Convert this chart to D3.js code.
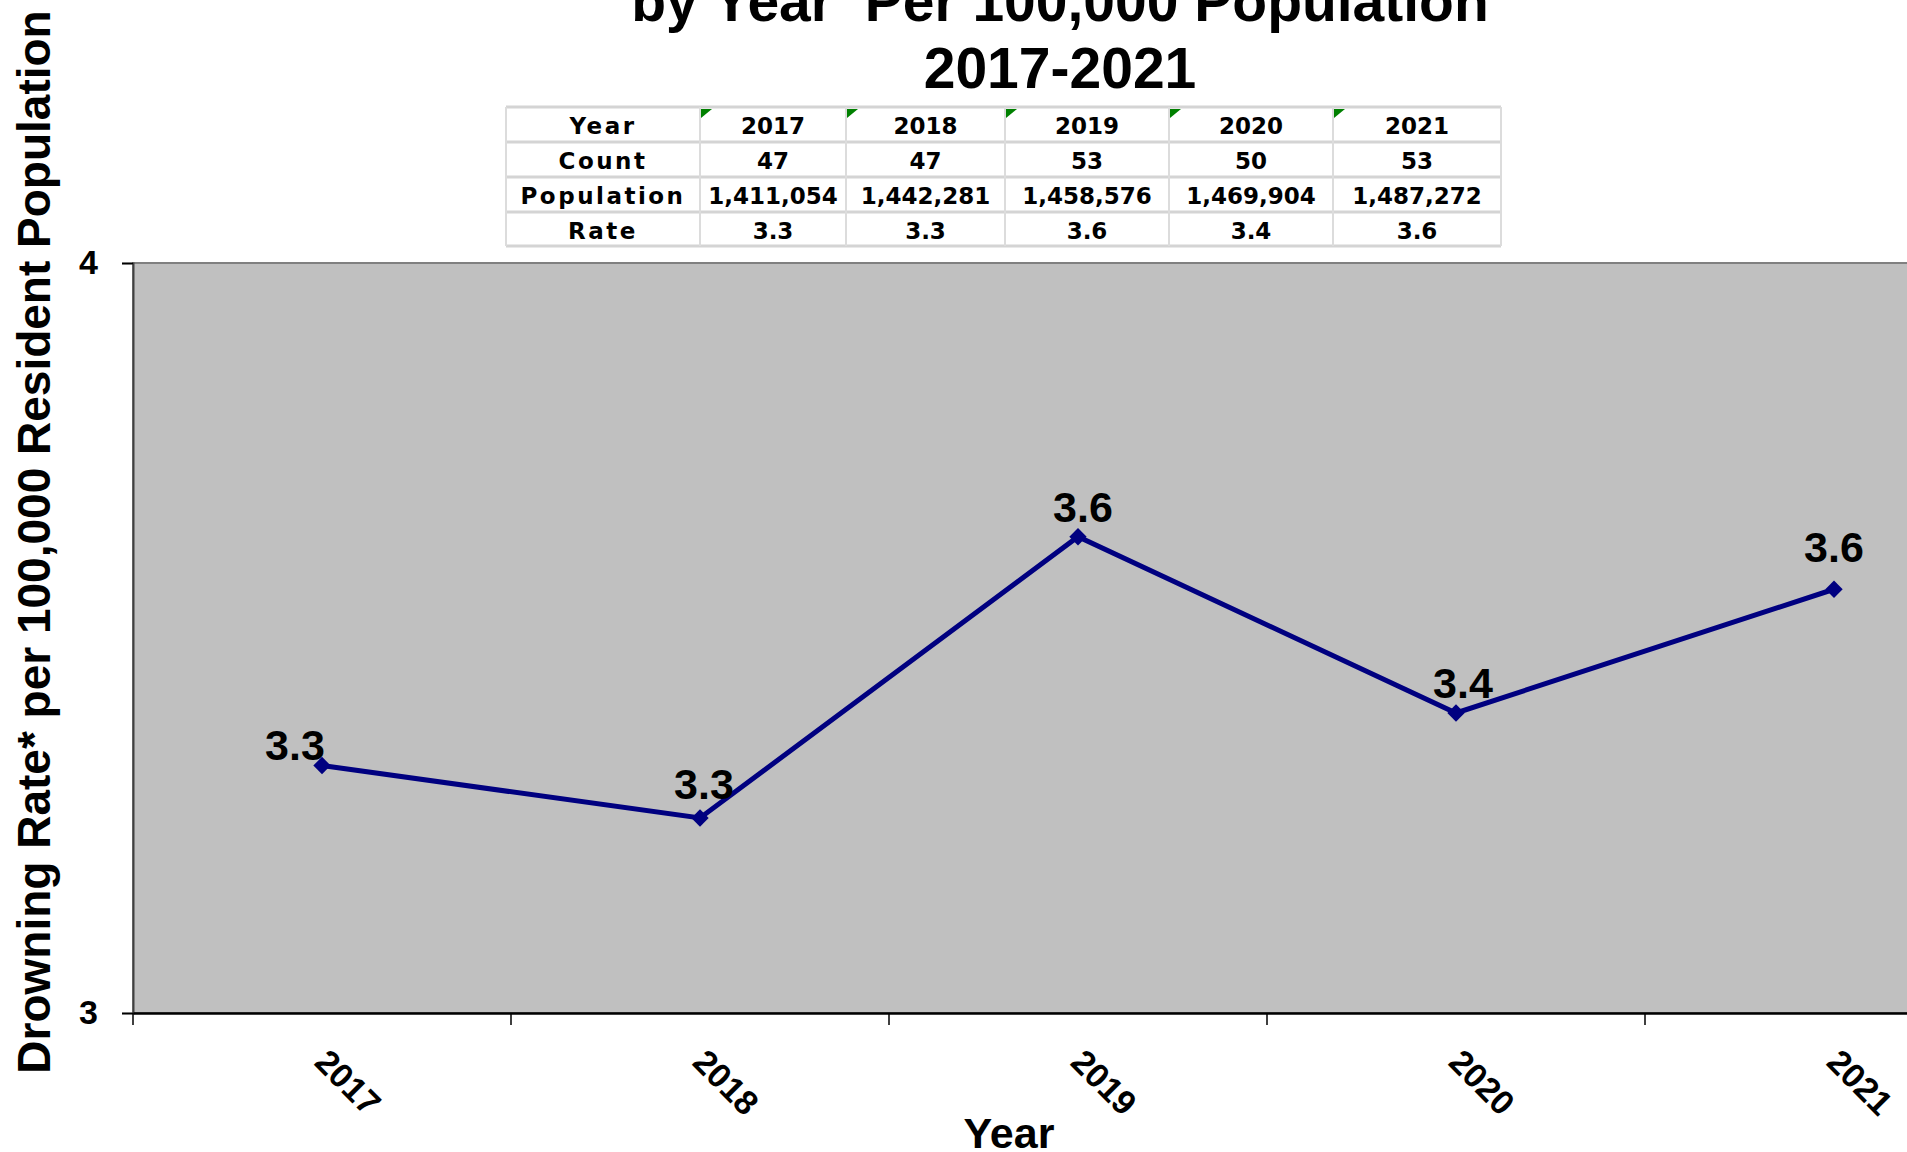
<!DOCTYPE html>
<html>
<head>
<meta charset="utf-8">
<script src="https://cdn.jsdelivr.net/npm/d3@7"></script>
<style>
    body { margin: 0; background: #fff; }
    text { font-family: "Liberation Sans", Arial, sans-serif; font-weight: bold; fill: #000; }
    .tbl text { font-family: "DejaVu Sans", Verdana, sans-serif; font-size: 23px; }
</style>
</head>
<body>
<div class="demo"></div>
<script>
(function() {
    // data
    var years = ["2017", "2018", "2019", "2020", "2021"];
    var counts = [47, 47, 53, 50, 53];
    var populations = [1411054, 1442281, 1458576, 1469904, 1487272];
    var rates = [3.33, 3.26, 3.635, 3.40, 3.565];
    var rateLabels = ["3.3", "3.3", "3.6", "3.4", "3.6"];
    var yTicks = [3, 4];
    var titleLines = ["by Year  Per 100,000 Population", "2017-2021"];

    var width = 1907,
        height = 1152;

    var plotLeft = 133,
        plotTop = 263,
        plotBottom = 1013,
        band = 378;

    // label nudges (Excel placed these a bit unevenly)
    var labelNudge = [[-27, -6], [4, -19], [5, -15], [7, -15], [0, -27]];

    var svg = d3.select(".demo").append("svg")
        .attr("width", width)
        .attr("height", height);

    var x = d3.scaleBand()
        .domain(years)
        .range([plotLeft, plotLeft + band * years.length])
        .paddingInner(0);

    var y = d3.scaleLinear()
        .domain([3, 4])
        .range([plotBottom, plotTop]);

    function cx(d, i) { return x(years[i]) + x.bandwidth() / 2; }

    // title
    svg.append("g").selectAll("text")
        .data(titleLines)
        .enter().append("text")
        .attr("x", 1060)
        .attr("y", function(d, i) { return 21 + i * 67; })
        .attr("text-anchor", "middle")
        .style("font-size", "57px")
        .style("white-space", "pre")
        .text(function(d) { return d; });

    // data table
    var colEdges = [506, 700, 846, 1005, 1169, 1333, 1501];
    var rowEdges = [107, 142, 177, 212, 246];
    var fmt = d3.format(",");
    var rows = [
        ["Year"].concat(years),
        ["Count"].concat(counts),
        ["Population"].concat(populations.map(fmt)),
        ["Rate"].concat(rateLabels)
    ];

    var tbl = svg.append("g").attr("class", "tbl");

    tbl.selectAll("line.h")
        .data(rowEdges)
        .enter().append("line")
        .attr("x1", colEdges[0]).attr("x2", colEdges[colEdges.length - 1])
        .attr("y1", function(d) { return d; }).attr("y2", function(d) { return d; })
        .attr("stroke", "#d4d4d4")
        .attr("stroke-width", 3);

    tbl.selectAll("line.v")
        .data(colEdges)
        .enter().append("line")
        .attr("x1", function(d) { return d; }).attr("x2", function(d) { return d; })
        .attr("y1", rowEdges[0]).attr("y2", rowEdges[rowEdges.length - 1])
        .attr("stroke", "#dcdcdc")
        .attr("stroke-width", 2);

    // little green corner flags on the year cells
    tbl.selectAll("path.flag")
        .data(years)
        .enter().append("path")
        .attr("d", function(d, i) {
            var x0 = colEdges[i + 1] + 1, y0 = rowEdges[0] + 2;
            return "M" + x0 + "," + y0 + "h11l-11,9z";
        })
        .attr("fill", "#008000");

    rows.forEach(function(r, ri) {
        tbl.selectAll("text.r" + ri)
            .data(r)
            .enter().append("text")
            .attr("x", function(d, ci) { return (colEdges[ci] + colEdges[ci + 1]) / 2; })
            .attr("y", rowEdges[ri] + 27)
            .attr("text-anchor", "middle")
            .style("letter-spacing", function(d, ci) { return ci === 0 ? "2.5px" : "0px"; })
            .text(function(d) { return d; });
    });

    // plot area
    svg.append("rect")
        .attr("x", plotLeft)
        .attr("y", plotTop)
        .attr("width", band * years.length)
        .attr("height", plotBottom - plotTop)
        .attr("fill", "#c0c0c0")
        .attr("stroke", "#808080")
        .attr("stroke-width", 2);

    // y axis
    var yAxis = svg.append("g")
        .attr("transform", "translate(" + plotLeft + ",0)")
        .call(d3.axisLeft(y).tickValues(yTicks).tickSize(11).tickPadding(24).tickFormat(d3.format("d")));
    yAxis.select(".domain").attr("stroke", "#404040").attr("stroke-width", 2);
    yAxis.selectAll(".tick line").attr("stroke", "#000").attr("stroke-width", 1.5);
    yAxis.selectAll("text")
        .style("font-size", "34px")
        .attr("font-family", null);

    // x axis
    var xAxis = svg.append("g")
        .attr("transform", "translate(0," + plotBottom + ")")
        .call(d3.axisBottom(x).tickSize(0).tickFormat(function(d) { return d; }));
    xAxis.select(".domain").attr("stroke", "#000").attr("stroke-width", 2.5);
    xAxis.selectAll("text")
        .attr("font-family", null)
        .style("font-size", "34px")
        .attr("text-anchor", "start")
        .attr("dy", null)
        .attr("y", 0)
        .attr("transform", "translate(-9,51) rotate(45)");

    // category boundary ticks
    var edges = years.map(function(d) { return x(d); }).concat([x.range()[1]]);
    svg.append("g").selectAll("line")
        .data(edges)
        .enter().append("line")
        .attr("x1", function(d) { return d; }).attr("x2", function(d) { return d; })
        .attr("y1", plotBottom).attr("y2", plotBottom + 12)
        .attr("stroke", "#000")
        .attr("stroke-width", 1.5);

    // line
    var line = d3.line()
        .x(function(d, i) { return cx(d, i); })
        .y(function(d) { return y(d); });

    svg.append("path")
        .datum(rates)
        .attr("d", line)
        .attr("fill", "none")
        .attr("stroke", "#000080")
        .attr("stroke-width", 5);

    svg.append("g").selectAll("path")
        .data(rates)
        .enter().append("path")
        .attr("d", d3.symbol(d3.symbolSquare, 150))
        .attr("transform", function(d, i) {
            return "translate(" + cx(d, i) + "," + y(d) + ") rotate(45)";
        })
        .attr("fill", "#000080");

    // value labels
    svg.append("g").selectAll("text")
        .data(rates)
        .enter().append("text")
        .attr("x", function(d, i) { return cx(d, i) + labelNudge[i][0]; })
        .attr("y", function(d, i) { return y(d) + labelNudge[i][1]; })
        .attr("text-anchor", "middle")
        .style("font-size", "43px")
        .text(function(d, i) { return rateLabels[i]; });

    // axis titles
    svg.append("text")
        .attr("transform", "translate(50,542) rotate(-90)")
        .attr("text-anchor", "middle")
        .style("font-size", "46px")
        .text("Drowning Rate* per 100,000 Resident Population");

    svg.append("text")
        .attr("x", 1009)
        .attr("y", 1148)
        .attr("text-anchor", "middle")
        .style("font-size", "43px")
        .text("Year");
})();
</script>
</body>
</html>
